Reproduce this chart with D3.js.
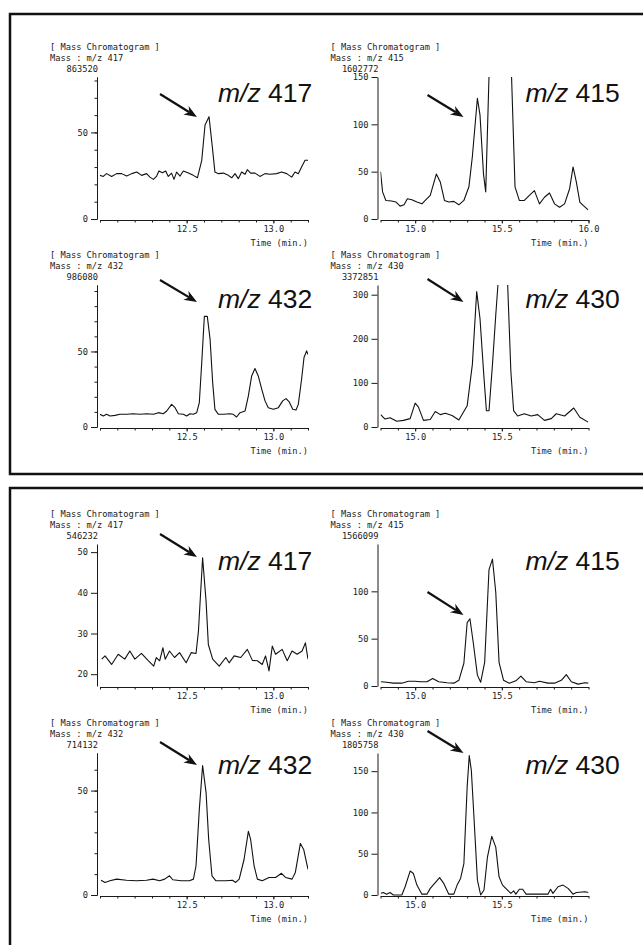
<!DOCTYPE html>
<html>
<head>
<meta charset="utf-8">
<script src="https://cdn.jsdelivr.net/npm/d3@7"></script>
<style>
  body { margin: 0; background: #fff; }
  .mono { font-family: "DejaVu Sans Mono", "Liberation Mono", monospace; font-size: 8.7px; fill: #1a1a1a; }
  .axis path, .axis line { stroke: #1a1a1a; stroke-width: 1; }
  .axis text { font-family: "DejaVu Sans Mono", "Liberation Mono", monospace; font-size: 8.7px; fill: #1a1a1a; }
</style>
</head>
<body>
<div id="chart"></div>
<script>
// Scan data: [time (min), relative intensity]

// upper frame
var scan417a = [[12.000,25.2],[12.019,24.6],[12.038,26.2],[12.067,24.6],[12.096,26.2],[12.125,26.2],[12.154,24.8],[12.183,26.2],[12.212,27.1],[12.240,25.2],[12.269,26.2],[12.288,24.2],[12.308,22.9],[12.327,24.8],[12.340,27.7],[12.360,26.7],[12.379,27.7],[12.394,24.6],[12.413,26.5],[12.427,22.9],[12.442,27.1],[12.462,24.8],[12.481,27.7],[12.510,26.5],[12.538,25.2],[12.562,23.8],[12.587,33.9],[12.606,54.3],[12.629,59.1],[12.648,41.7],[12.663,27.1],[12.683,26.2],[12.712,26.5],[12.740,25.2],[12.760,23.8],[12.779,26.2],[12.798,23.3],[12.817,27.1],[12.837,25.8],[12.850,28.5],[12.869,26.5],[12.894,26.5],[12.923,24.6],[12.952,26.2],[12.981,25.8],[13.019,26.2],[13.048,27.1],[13.077,26.2],[13.106,24.2],[13.125,27.1],[13.144,26.2],[13.163,30],[13.183,33.9],[13.202,33.9]];

var scan415a = [[14.800,50],[14.812,28.6],[14.831,19.6],[14.864,19],[14.890,17.9],[14.913,13.6],[14.936,15],[14.955,21.4],[14.981,20.4],[15.010,17.9],[15.039,16],[15.058,19.6],[15.087,25],[15.122,47.5],[15.145,39],[15.169,19.6],[15.194,17.9],[15.223,18.6],[15.252,15],[15.281,19.6],[15.310,34],[15.330,66],[15.359,127.5],[15.374,110],[15.394,48],[15.407,28.6],[15.426,151],[15.450,215],[15.480,255],[15.510,240],[15.535,195],[15.556,151],[15.576,34],[15.601,19.6],[15.630,19.6],[15.659,25],[15.688,30],[15.717,16],[15.746,23],[15.775,27.5],[15.804,16],[15.833,12.5],[15.862,16],[15.891,32],[15.911,55],[15.930,39],[15.950,17.9],[15.969,14.3],[15.998,9.6]];

var scan432a = [[12.000,8.4],[12.019,7.3],[12.038,8.4],[12.058,7.3],[12.087,7.7],[12.115,8.4],[12.154,8.4],[12.192,8.8],[12.231,8.4],[12.269,8.8],[12.308,8.4],[12.337,9.5],[12.365,8.8],[12.385,10.6],[12.413,15.0],[12.433,12.8],[12.452,8.8],[12.481,8.4],[12.500,7.3],[12.519,8.8],[12.538,8.4],[12.558,9.5],[12.573,16.2],[12.587,42.7],[12.602,73.2],[12.619,73.2],[12.635,58.2],[12.650,29.4],[12.663,11.7],[12.683,8.4],[12.712,8.4],[12.750,8.8],[12.769,8.4],[12.788,6.6],[12.808,9.5],[12.837,10.6],[12.856,20.6],[12.875,33.8],[12.894,38.7],[12.913,33.8],[12.933,25],[12.952,17.3],[12.971,12.8],[13.000,11.7],[13.029,12.8],[13.054,17.3],[13.073,18.8],[13.092,16.6],[13.112,11.7],[13.131,11.3],[13.144,15.0],[13.163,31.6],[13.177,46],[13.192,50.4],[13.200,48]];

var scan430a = [[14.801,28],[14.826,18],[14.855,21],[14.894,13],[14.932,15],[14.971,19],[15.000,54],[15.019,45],[15.048,15],[15.087,17],[15.116,35],[15.145,28],[15.174,31],[15.213,26],[15.252,16],[15.300,48],[15.330,142],[15.355,307],[15.374,246],[15.397,112],[15.411,37],[15.426,37],[15.446,142],[15.465,254],[15.479,330],[15.500,440],[15.520,420],[15.533,330],[15.552,127],[15.568,37],[15.591,25],[15.630,30],[15.669,25],[15.707,28],[15.746,15],[15.785,19],[15.814,30],[15.862,25],[15.915,43],[15.950,22],[15.998,11]];

// lower frame
var scan417b = [[12.010,23.7],[12.029,24.5],[12.067,22.4],[12.105,24.9],[12.143,23.7],[12.172,25.7],[12.201,23.7],[12.239,25.1],[12.277,23.4],[12.310,22.0],[12.325,24.1],[12.344,23.3],[12.363,26.5],[12.376,23.7],[12.401,25.7],[12.430,24.1],[12.459,25.3],[12.497,22.8],[12.526,25.3],[12.554,25.1],[12.568,30.6],[12.592,48.6],[12.612,37.9],[12.625,27.3],[12.650,23.7],[12.688,22.0],[12.726,24.1],[12.745,22.8],[12.774,24.5],[12.812,24.1],[12.850,26.1],[12.879,23.4],[12.908,23.3],[12.936,22.4],[12.955,24.5],[12.975,20.8],[12.994,26.9],[13.013,24.9],[13.051,26.1],[13.080,23.3],[13.108,25.7],[13.137,24.9],[13.166,25.7],[13.185,27.7],[13.200,23.7]];

var scan415b = [[14.802,4.5],[14.835,4],[14.874,3],[14.923,3],[14.961,5],[15.000,5],[15.029,4.5],[15.068,4.5],[15.101,8],[15.136,4.5],[15.184,3.5],[15.223,3],[15.252,6],[15.281,24],[15.300,67],[15.316,71],[15.335,46],[15.359,11.5],[15.378,4],[15.401,25],[15.426,123],[15.446,134],[15.465,99],[15.484,25],[15.510,6],[15.543,3],[15.581,5.5],[15.610,10.5],[15.640,4.5],[15.688,3.5],[15.717,5],[15.766,3],[15.804,3],[15.843,6],[15.872,12],[15.901,4.5],[15.940,2],[15.979,3.5],[16.000,3]];

var scan432b = [[12.006,7.1],[12.029,6],[12.057,6.8],[12.096,7.6],[12.153,7.1],[12.210,6.8],[12.268,7.1],[12.306,7.6],[12.344,6.8],[12.373,7.6],[12.401,9.2],[12.420,7.3],[12.468,6.8],[12.516,6.8],[12.539,7.6],[12.554,14],[12.573,41],[12.592,62],[12.612,49],[12.627,26.6],[12.646,9.2],[12.669,6.8],[12.726,6.8],[12.764,7.1],[12.783,6],[12.803,7.6],[12.831,17],[12.856,30.5],[12.869,26.6],[12.889,14],[12.908,7.6],[12.936,6.8],[12.975,8.4],[13.013,8.4],[13.047,10.4],[13.070,8.4],[13.108,7.6],[13.127,10.8],[13.156,24.7],[13.175,21.8],[13.200,12.3]];

var scan430b = [[14.802,2],[14.816,3],[14.835,1],[14.855,3],[14.874,0],[14.923,0],[14.942,10],[14.971,29],[14.990,26],[15.010,12],[15.039,1],[15.068,1],[15.087,8],[15.116,15],[15.141,21],[15.165,14],[15.194,1],[15.223,1],[15.242,12],[15.262,20],[15.281,38],[15.300,131],[15.312,169],[15.324,151],[15.339,95],[15.359,18],[15.378,0],[15.397,6],[15.417,46],[15.442,71],[15.465,58],[15.484,22],[15.504,12],[15.533,6],[15.552,2],[15.568,5],[15.581,1],[15.601,7],[15.620,7],[15.640,1],[15.766,1],[15.781,7],[15.795,2],[15.824,10],[15.853,12],[15.882,8],[15.911,1],[15.930,3],[15.979,4],[16.000,3]];

// masses and base counts printed on each trace
var masses = ["417", "415", "432", "430", "417", "415", "432", "430"];
var totals = ["863520", "1602772", "986080", "3372851", "546232", "1566099", "714132", "1805758"];

// axis ranges and tick labels
var timeLeft = [12.0, 13.2];
var timeRight = [14.8, 16.0];
var yTop = [82, 150, 94, 322, 52, 150, 68, 172];
var yBottom = [0, 0, 0, 0, 17.1, 0, 0, 0];
var yLabels = [[0, 50], [0, 50, 100, 150], [0, 50], [0, 100, 200, 300], [20, 30, 40, 50], [0, 50, 100], [0, 50], [0, 50, 100, 150]];
var yMinorStep = [10, 0, 10, 0, 0, 0, 10, 0];
var xLabelsLeft = [12.5, 13.0];
var xLabelsRight = [[15.0, 15.5, 16.0], [15.0, 15.5], [15.0, 15.5], [15.0, 15.5]];

var scans = [scan417a, scan415a, scan432a, scan430a, scan417b, scan415b, scan432b, scan430b];

// ---- layout ----
var width = 643, height = 945;
var plotW = 208, plotH = 142;
var colLeft = [100, 380.5];
var rowTop = [77, 285, 544, 753];
var labelDy = [25, 23, 26, 21];
var labelDx = [118, 145];
// arrow start / tip relative to each plot's top-left corner
var arrows = [
  [60, 17, 97, 40], [47, 18, 83, 40],
  [60, -5, 97, 17], [47, -6, 83, 17],
  [60, -10, 97, 13], [47, 48, 83, 71],
  [60, -11, 97, 12], [47, -22, 83, 0]
];

var svg = d3.select("#chart")
  .append("svg")
  .attr("width", width)
  .attr("height", height);

svg.append("rect").attr("width", width).attr("height", height).attr("fill", "#fff");

// two framed figures
[[14, 460], [488, 470]].forEach(function(f) {
  svg.append("rect")
    .attr("x", 10).attr("y", f[0])
    .attr("width", 645).attr("height", f[1])
    .attr("fill", "none")
    .attr("stroke", "#111")
    .attr("stroke-width", 2.5);
});

var line = d3.line();

scans.forEach(function(scan, i) {
  var col = i % 2, row = Math.floor(i / 2);
  var left = colLeft[col], top = rowTop[row];
  var g = svg.append("g").attr("transform", "translate(" + left + "," + top + ")");

  var x = d3.scaleLinear().domain(col ? timeRight : timeLeft).range([0, plotW]);
  var y = d3.scaleLinear().domain([yBottom[i], yTop[i]]).range([plotH, 0]);

  // header block
  g.append("text").attr("class", "mono").attr("x", -50).attr("y", -27).text("[ Mass Chromatogram ]");
  g.append("text").attr("class", "mono").attr("x", -50).attr("y", -16.5).text("Mass : m/z " + masses[i]);
  g.append("text").attr("class", "mono").attr("x", -2).attr("y", -5).attr("text-anchor", "end").text(totals[i]);

  // y axis
  if (yMinorStep[i]) {
    g.append("g").attr("class", "axis")
      .attr("transform", "translate(-3,0)")
      .call(d3.axisLeft(y).tickValues(d3.range(yBottom[i], yTop[i], yMinorStep[i])).tickSize(2.5).tickSizeOuter(0).tickFormat(""));
  }
  g.append("g").attr("class", "axis")
    .attr("transform", "translate(-3,0)")
    .call(d3.axisLeft(y).tickValues(yLabels[i]).tickSize(6).tickSizeOuter(0).tickPadding(3).tickFormat(d3.format("d")));

  // x axis
  var xa = g.append("g").attr("class", "axis")
    .attr("transform", "translate(0," + (plotH + 1) + ")");
  xa.call(d3.axisBottom(x).ticks(12).tickSize(2.5).tickSizeOuter(0).tickFormat(""));
  var xl = g.append("g").attr("class", "axis")
    .attr("transform", "translate(0," + (plotH + 1) + ")")
    .call(d3.axisBottom(x).tickValues(col ? xLabelsRight[row] : xLabelsLeft).tickSize(3.5).tickSizeOuter(0).tickPadding(2).tickFormat(d3.format(".1f")));
  xl.select(".domain").remove();

  g.append("text").attr("class", "mono")
    .attr("x", plotW).attr("y", plotH + 26.5)
    .attr("text-anchor", "end")
    .text("Time (min.)");

  // trace, clipped at the top of the frame
  var clipId = "clip" + i;
  g.append("clipPath").attr("id", clipId)
    .append("rect").attr("x", 0).attr("y", 0).attr("width", plotW).attr("height", plotH + 1);

  line.x(function(d) { return x(d[0]); }).y(function(d) { return y(d[1]); });
  g.append("path")
    .datum(scan)
    .attr("clip-path", "url(#" + clipId + ")")
    .attr("fill", "none")
    .attr("stroke", "#111")
    .attr("stroke-width", 1.1)
    .attr("stroke-linejoin", "round")
    .attr("d", line);

  // big m/z label
  var lab = g.append("text")
    .attr("x", labelDx[col]).attr("y", labelDy[row])
    .style("font-family", "'Liberation Sans', Arial, sans-serif")
    .style("font-size", "26.5px")
    .attr("fill", "#111");
  lab.append("tspan").style("font-style", "italic").text("m/z");
  lab.append("tspan").text(" " + masses[i]);

  // arrow pointing at the peak
  var a = arrows[i];
  var ang = Math.atan2(a[3] - a[1], a[2] - a[0]);
  var hl = 13, hw = 5;
  var bx = a[2] - hl * Math.cos(ang), by = a[3] - hl * Math.sin(ang);
  var nx = a[2] - (hl - 4) * Math.cos(ang), ny = a[3] - (hl - 4) * Math.sin(ang);
  g.append("line")
    .attr("x1", a[0]).attr("y1", a[1]).attr("x2", nx).attr("y2", ny)
    .attr("stroke", "#111").attr("stroke-width", 2.2);
  g.append("path")
    .attr("d", "M" + a[2] + "," + a[3] +
      "L" + (bx + hw * Math.sin(ang)) + "," + (by - hw * Math.cos(ang)) +
      "L" + nx + "," + ny +
      "L" + (bx - hw * Math.sin(ang)) + "," + (by + hw * Math.cos(ang)) + "Z")
    .attr("fill", "#111");
});
</script>
</body>
</html>
